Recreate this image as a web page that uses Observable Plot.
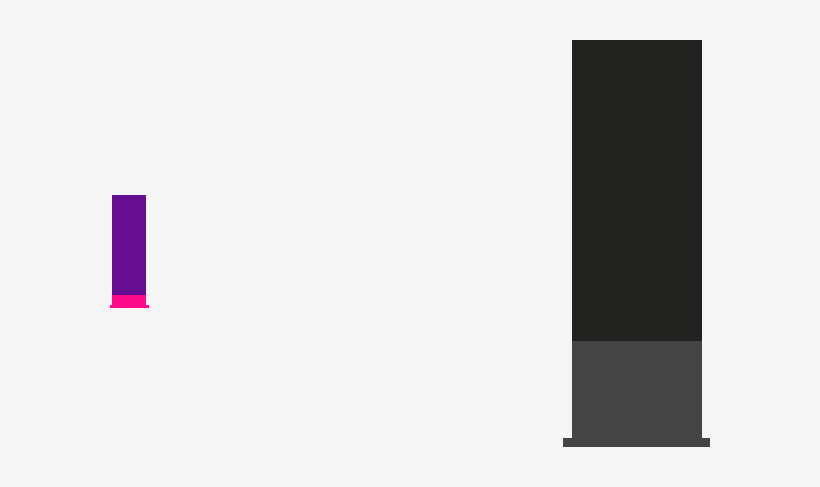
<!DOCTYPE html>
<html>
<head>
<meta charset="utf-8">
<script src="https://cdn.jsdelivr.net/npm/d3@7"></script>
<script src="https://cdn.jsdelivr.net/npm/@observablehq/plot@0.6"></script>
<style>
  html, body { margin: 0; padding: 0; background: #f5f5f5; }
</style>
</head>
<body>
<div id="chart"></div>
<script>
// Segments: group, x-extent, y-extent (value units), colour
const segGroup = ["A", "A", "A", "B", "B", "B"];
const segPart  = ["base", "lower", "upper", "base", "lower", "upper"];
const segX1    = [110, 112, 112, 563, 572, 572];
const segX2    = [149, 146, 146, 710, 702, 702];
const segY1    = [179, 182, 192, 40, 49, 146];
const segY2    = [182, 192, 292, 49, 146, 447];
const segColor = ["#ff0a8a", "#ff0a8a", "#660e90", "#444444", "#444444", "#222220"];

const data = segGroup.map((g, i) => ({
  group: g, part: segPart[i],
  x1: segX1[i], x2: segX2[i], y1: segY1[i], y2: segY2[i], color: segColor[i]
}));

const chart = Plot.plot({
  width: 820,
  height: 487,
  margin: 0,
  style: { background: "#f5f5f5" },
  x: { domain: [0, 820], axis: null },
  y: { domain: [0, 487], axis: null },
  marks: [
    Plot.rect(data, {x1: "x1", x2: "x2", y1: "y1", y2: "y2", fill: d => d.color})
  ]
});
document.getElementById("chart").appendChild(chart);
</script>
</body>
</html>
